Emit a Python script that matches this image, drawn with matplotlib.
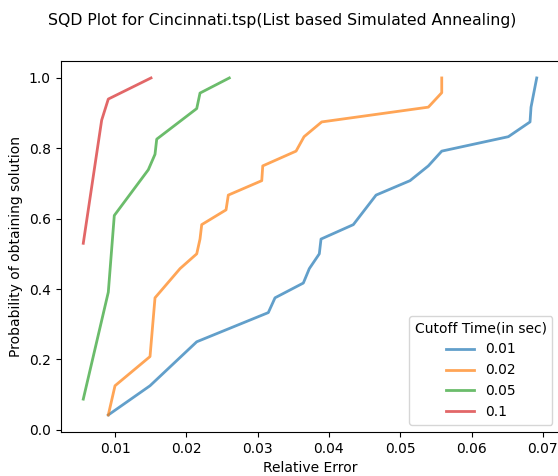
import matplotlib
matplotlib.use("Agg")
import matplotlib.pyplot as plt

# relative error reached vs. fraction of runs, one curve per cutoff time
cutoffs = ["0.01", "0.02", "0.05", "0.1"]

err_001 = [0.00906, 0.01491, 0.02146, 0.03150, 0.03244, 0.03641, 0.03725, 0.03865,
           0.03889, 0.04342, 0.04661, 0.05137, 0.05394, 0.05582, 0.06516, 0.06820,
           0.06834, 0.06914]
prob_001 = [0.042, 0.125, 0.25, 0.333, 0.375, 0.417, 0.458, 0.5,
            0.542, 0.583, 0.667, 0.708, 0.75, 0.792, 0.833, 0.875,
            0.917, 1.0]

err_002 = [0.00906, 0.0100, 0.01491, 0.01561, 0.01912, 0.02146, 0.02192, 0.02216,
           0.02557, 0.02589, 0.03058, 0.03072, 0.03539, 0.03651, 0.03899, 0.05394,
           0.05582, 0.05582]
prob_002 = [0.042, 0.125, 0.208, 0.375, 0.458, 0.5, 0.542, 0.583,
            0.625, 0.667, 0.708, 0.75, 0.792, 0.833, 0.875, 0.917,
            0.958, 1.0]

err_005 = [0.00555, 0.00906, 0.0099, 0.01467, 0.01561, 0.01585, 0.02146, 0.02192, 0.02603]
prob_005 = [0.087, 0.391, 0.609, 0.739, 0.783, 0.826, 0.913, 0.957, 1.0]

err_01 = [0.00555, 0.00813, 0.00906, 0.01505]
prob_01 = [0.53, 0.88, 0.94, 1.0]

errors = [err_001, err_002, err_005, err_01]
probs = [prob_001, prob_002, prob_005, prob_01]

fig = plt.figure(figsize=(5.58, 4.76), dpi=100)
ax = fig.add_axes([60.6 / 558, 44.2 / 476, 498.8 / 558, 370.7 / 476])

for e, p, c in zip(errors, probs, cutoffs):
    ax.plot(e, p, lw=2, alpha=0.7, label=c)

ax.set_xlabel("Relative Error")
ax.set_ylabel("Probability of obtaining solution")
ax.legend(title="Cutoff Time(in sec)", loc="lower right")
fig.suptitle("SQD Plot for Cincinnati.tsp(List based Simulated Annealing)",
             x=282 / 558, y=1 - 13 / 476, va="top", fontsize=11.3)

fig.savefig("out.png", dpi=100)
